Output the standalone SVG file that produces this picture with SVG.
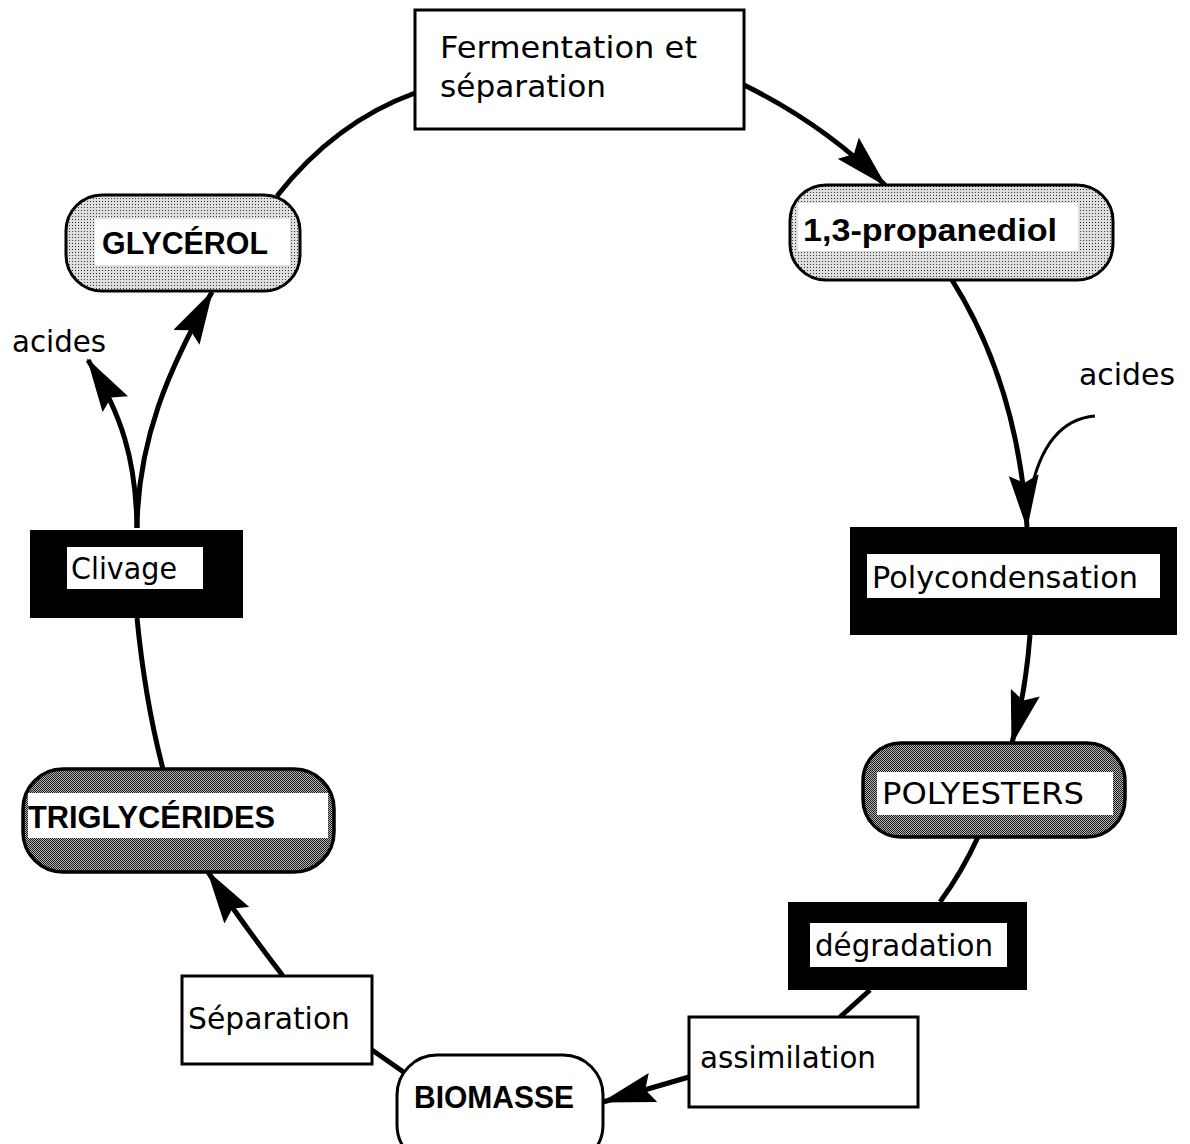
<svg xmlns="http://www.w3.org/2000/svg" width="1190" height="1144" viewBox="0 0 1190 1144">
<style>
  text { font-family: "DejaVu Sans", "Liberation Sans", sans-serif; font-size: 31px; fill: #000; }
  .b { font-family: "Liberation Sans", "DejaVu Sans", sans-serif; font-weight: bold; font-size: 32px; }
  .box { fill: #fff; stroke: #000; stroke-width: 3; }
  .blk { fill: #000; }
  .inner { fill: #fff; }
  .light { fill: url(#plight); stroke: #000; stroke-width: 3; }
  .dark { fill: url(#pdark); stroke: #000; stroke-width: 3.5; }
  .conn path { fill: none; stroke: #000; stroke-width: 5; }
  .conn path.thin { stroke-width: 3; }
  .conn path.arr { marker-end: url(#ah); }
</style>
<defs>
  <pattern id="plight" width="3" height="3" patternUnits="userSpaceOnUse">
    <rect width="3" height="3" fill="#dedede"/>
    <rect width="1" height="1" fill="#333"/>
  </pattern>
  <pattern id="pdark" width="2" height="2" patternUnits="userSpaceOnUse">
    <rect width="2" height="2" fill="#b5b5b5"/>
    <rect width="1" height="1" fill="#1a1a1a"/>
    <rect x="1" y="1" width="1" height="1" fill="#1a1a1a"/>
  </pattern>
  <marker id="ah" viewBox="0 0 54 30" refX="52" refY="15" markerWidth="54" markerHeight="30" markerUnits="userSpaceOnUse" orient="auto">
    <path d="M0,0 L54,15 L0,30 L8,15 Z" fill="#000"/>
  </marker>
</defs>

<g id="connectors" class="conn">
  <path d="M415,93 Q335,122 277,196"/>
  <path class="arr" d="M744,85 Q825,125 885,185"/>
  <path class="arr" d="M952,280 Q1018,385 1027,527"/>
  <path class="thin" d="M1095,416 Q1045,420 1030,495"/>
  <path class="arr" d="M1030,635 Q1026,690 1012,743"/>
  <path d="M978,837 Q962,872 940,902"/>
  <path d="M870,990 L840,1017"/>
  <path class="arr" d="M689,1077 L603,1102"/>
  <path d="M405,1073 L372,1050"/>
  <path class="arr" d="M283,976 Q240,920 208,872"/>
  <path d="M163,769 Q145,700 137,618"/>
  <path class="arr" d="M137,528 C138,440 168,370 212,292"/>
  <path class="arr" d="M137,528 C136,460 122,415 88,360"/>
</g>

<g id="n-fermentation">
  <rect class="box" x="415" y="10" width="329" height="119"/>
  <text x="440" y="58" textLength="257" lengthAdjust="spacingAndGlyphs">Fermentation et</text>
  <text x="440" y="97" textLength="166" lengthAdjust="spacingAndGlyphs">séparation</text>
</g>

<g id="n-glycerol">
  <rect class="light" x="66" y="195" width="234" height="96" rx="36"/>
  <rect class="inner" x="95" y="219" width="195" height="46"/>
  <text class="b" x="102" y="254" textLength="166" lengthAdjust="spacingAndGlyphs">GLYCÉROL</text>
</g>

<g id="n-propanediol">
  <rect class="light" x="790" y="185" width="323" height="95" rx="36"/>
  <rect class="inner" x="798" y="203" width="280" height="48"/>
  <text class="b" x="803" y="241" textLength="254" lengthAdjust="spacingAndGlyphs">1,3-propanediol</text>
</g>

<text id="acides-left" x="12" y="352" textLength="94" lengthAdjust="spacingAndGlyphs">acides</text>
<text id="acides-right" x="1079" y="385" textLength="96" lengthAdjust="spacingAndGlyphs">acides</text>

<g id="n-clivage">
  <rect class="blk" x="30" y="530" width="213" height="88"/>
  <rect class="inner" x="67" y="547" width="136" height="42"/>
  <text x="71" y="579" textLength="106" lengthAdjust="spacingAndGlyphs">Clivage</text>
</g>

<g id="n-polycondensation">
  <rect class="blk" x="850" y="527" width="327" height="108"/>
  <rect class="inner" x="867" y="554" width="293" height="44"/>
  <text x="872" y="588" textLength="266" lengthAdjust="spacingAndGlyphs">Polycondensation</text>
</g>

<g id="n-polyesters">
  <rect class="dark" x="863" y="743" width="262" height="94" rx="38"/>
  <rect class="inner" x="877" y="772" width="236" height="43"/>
  <text x="882" y="804" textLength="202" lengthAdjust="spacingAndGlyphs">POLYESTERS</text>
</g>

<g id="n-degradation">
  <rect class="blk" x="788" y="902" width="239" height="88"/>
  <rect class="inner" x="810" y="923" width="197" height="44"/>
  <text x="815" y="956" textLength="178" lengthAdjust="spacingAndGlyphs">dégradation</text>
</g>

<g id="n-assimilation">
  <rect class="box" x="689" y="1017" width="229" height="90"/>
  <text x="700" y="1068" textLength="176" lengthAdjust="spacingAndGlyphs">assimilation</text>
</g>

<g id="n-biomasse">
  <rect class="box" x="397" y="1055" width="206" height="110" rx="40"/>
  <text class="b" x="414" y="1108" textLength="160" lengthAdjust="spacingAndGlyphs">BIOMASSE</text>
</g>

<g id="n-separation">
  <rect class="box" x="182" y="976" width="190" height="88"/>
  <text x="188" y="1029" textLength="162" lengthAdjust="spacingAndGlyphs">Séparation</text>
</g>

<g id="n-triglycerides">
  <rect class="dark" x="23" y="769" width="311" height="103" rx="40"/>
  <rect class="inner" x="28" y="793" width="300" height="45"/>
  <text class="b" x="28" y="828" textLength="247" lengthAdjust="spacingAndGlyphs">TRIGLYCÉRIDES</text>
</g>
</svg>
